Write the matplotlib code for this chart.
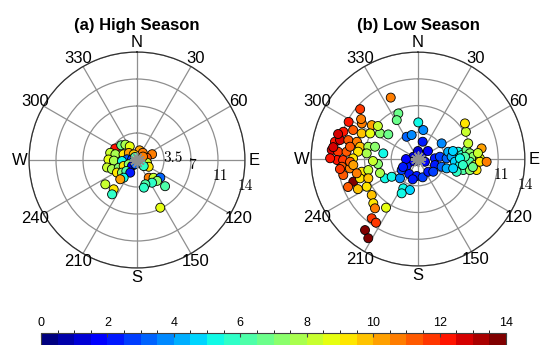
import numpy as np
import matplotlib
matplotlib.use('Agg')
import matplotlib.pyplot as plt
from matplotlib.colors import BoundaryNorm

# High season: wind direction (deg, clockwise from N), wind speed, colour value
high_dir = [298, 313, 323, 332, 15, 39, 69, 77, 285, 285, 293, 311, 330, 271, 268.5,
            274, 278, 266, 256, 250, 247, 246, 243, 220, 238, 230, 224, 208, 217, 221,
            202, 105, 120, 132, 146.5, 137, 127, 136, 146.5, 161, 166, 133, 154, 232.5,
            218.5, 216, 326, 60]
high_spd = [3.2, 2.8, 2.5, 2.0, 1.3, 1.2, 2.1, 1.3, 3.6, 2.9, 1.9, 1.4, 0.85, 3.7, 3.0,
            1.3, 0.65, 1.95, 4.0, 3.46, 2.57, 1.89, 1.21, 1.01, 3.07, 2.55, 1.99, 1.86, 2.87, 3.31,
            0.6, 1.34, 1.75, 1.17, 2.75, 3.15, 3.79, 3.76, 3.53, 3.33, 3.69, 4.98, 6.88, 5.18,
            4.85, 5.5, 0.47, 0.9]
high_val = [12.0, 6.5, 7.5, 8.5, 10, 10.5, 10.5, 11, 8, 7.5, 9, 10, 9.5, 8.5, 7.5,
            3, 2.5, 5, 8, 7.5, 7, 9, 7, 1.5, 9, 7, 6, 2, 5, 10,
            3, 8, 9, 5.5, 10.5, 8, 3, 7, 5.5, 6, 5.5, 6, 8.5, 8,
            9, 5.5, 6, 10.5]

# Low season
low_dir = [336.1, 310.8, 298.2, 302.4, 306.3, 290.1, 294.1, 294.5, 298.2, 304.1,
           309.7, 281.8, 283.7, 285.2, 285.8, 282, 283.9, 286, 279.3, 276,
           275.2, 275.8, 277, 276.3, 269.3, 269.2, 270.6, 264.2, 262.2, 257.3,
           257.5, 239.7, 250.7, 251.6, 248.8, 241.6, 232.1, 225.3, 221.1, 213.3,
           218, 213.4, 216.7, 212.1, 336.7, 331.4, 236, 223, 280.3, 270.5,
           267.7, 257.9, 264.7, 256.9, 309.5, 262.9, 249.8, 267.5, 305.1, 287.4,
           278, 262.7, 248.2, 243.4,
           0.5, 10.4, 333.1, 345.3, 15.2, 296.1, 217.4, 249.7, 42.8, 111.1,
           238.2, 236, 210.1, 184.4, 165.6, 194.6, 141,
           87.6, 56.5, 84, 88.6, 109.4, 108, 129.7, 108, 76.5, 86.1,
           94.2, 79.7, 84.8, 98.1, 103.6, 79.5, 72.7, 60.4, 52.8, 83.7,
           87.6, 93, 96, 100.6, 89.4, 80.5, 92.5, 92.3, 108.2, 87.2,
           89, 104.8, 102, 77.1, 97.6, 98.3, 84.3,
           206.6, 194.5, 205.4, 270, 51.3, 0, 241.9]
low_spd = [8.8, 10.0, 10.3, 8.7, 7.5, 10.4, 9.3, 8.1, 7.1, 6.0,
           5.05, 11.1, 10.5, 9.45, 8.3, 7.75, 6.7, 5.85, 4.6, 11.35,
           10.5, 9.4, 7.9, 6.75, 10.6, 9.8, 8.5, 10.0, 9.0, 7.55,
           6.66, 5.0, 8.97, 8.0, 6.97, 7.63, 7.67, 8.23, 8.56, 7.62,
           9.84, 9.98, 11.6, 12.24, 6.5, 5.8, 4.15, 3.45, 9.04, 11.5,
           8.9, 10.0, 8.5, 8.23, 6.8, 5.27, 5.3, 5.9, 9.1, 10.96,
           11.2, 10.3, 9.86, 8.8,
           4.8, 3.86, 3.27, 3.25, 2.35, 0.68, 0.28, 1.02, 0.71, 0.98,
           1.74, 2.57, 2.27, 2.23, 2.47, 2.74, 2.14,
           2.22, 3.72, 2.89, 3.75, 2.36, 3.26, 2.6, 3.95, 4.08, 4.42,
           4.85, 5.36, 5.74, 5.55, 6.1, 6.48, 6.89, 7.22, 7.72, 6.84,
           7.24, 6.81, 7.5, 7.81, 8.11, 8.45, 8.12, 9.0, 5.33, 6.16,
           5.5, 4.77, 6.95, 4.7, 5.94, 7.27, 7.89,
           4.29, 4.19, 4.97, 1.57, 1.68, 1.05, 2.22]
low_val = [10.5, 11.5, 12, 10.5, 10, 12, 11, 9.5, 8.5, 7,
           6.5, 12, 12.5, 11, 10.5, 9.5, 7.5, 7, 5, 12.5,
           11.5, 11, 9, 7.5, 12, 11.5, 9, 11, 10.5, 9,
           8, 5, 13.5, 9, 9.5, 9, 9.5, 9, 10.5, 8.5,
           11.5, 11.5, 14, 13.5, 6.5, 6.5, 5, 3.5, 11, 12,
           11, 11, 10, 10.5, 8, 7, 7.5, 8, 10.5, 12.5,
           12.5, 11.5, 11, 9.5,
           5, 3.5, 3, 3.5, 2, 1, 1, 1.5, 1, 1.5,
           2, 2.5, 2, 2, 2.5, 2, 2,
           2, 3.5, 2.5, 3, 2, 3, 2.5, 4, 4, 4,
           4.5, 5, 5.5, 5, 6, 6.5, 8, 8, 9, 7,
           7, 6, 8, 9, 8.5, 10, 9, 10.5, 5.5, 6,
           5, 4.5, 7, 4.5, 5.5, 6.5, 8,
           5, 4.5, 5, 1.5, 1.5, 1, 2]

theta_labels = ['N', '30', '60', 'E', '120', '150', 'S', '210', '240', 'W', '300', '330']
r_labels = ['3.5', '7', '11', '14']
r_label_pos = [(85.6, 3.38), (95.6, 6.64), (101.9, 10.07), (104.4, 13.5)]
titles = ['(a) High Season', '(b) Low Season']

cmap = plt.get_cmap('jet', 28)
norm = BoundaryNorm(np.arange(0, 14.5, 0.5), cmap.N)

fig = plt.figure(figsize=(5.4, 3.45), dpi=100)
boxes = [[0.0537, 0.2232, 0.4, 0.626], [0.576, 0.229, 0.396, 0.620]]
data = [(high_dir, high_spd, high_val), (low_dir, low_spd, low_val)]

for i in range(2):
    ax = fig.add_axes(boxes[i], projection='polar')
    ax.set_theta_zero_location('N')
    ax.set_theta_direction(-1)
    ax.set_ylim(0, 14)
    ax.set_yticks([3.5, 7, 10.5, 14])
    ax.set_yticklabels([])
    ax.set_xticks(np.deg2rad(np.arange(0, 360, 30)))
    ax.set_xticklabels([])
    ax.grid(True, color='#8f8f8f', linewidth=0.9)
    ax.spines['polar'].set_color('#303030')
    ax.spines['polar'].set_linewidth(0.9)
    ax.set_axisbelow(True)

    for k, lab in enumerate(theta_labels):
        ax.text(np.deg2rad(k * 30), 15.2, lab, ha='center', va='center',
                fontsize=12, family='Liberation Sans', clip_on=False)
    for lab, (th, rr) in zip(r_labels, r_label_pos):
        ax.text(np.deg2rad(th), rr, lab, ha='left', va='center',
                fontsize=11, family='cmr10', zorder=1)

    d, s, v = data[i]
    ax.scatter(np.deg2rad(d), s, c=v, cmap=cmap, norm=norm, s=42,
               edgecolors='black', linewidths=0.6, zorder=3)
    ax.plot(0, 0, marker=(12, 2, 0), markersize=11, color='#8f8f8f',
            mew=1.2, zorder=4)

    cx = boxes[i][0] + boxes[i][2] / 2
    fig.text(cx, 0.9275, titles[i], ha='center', va='center',
             fontsize=12, fontweight='bold', family='Liberation Sans')

cax = fig.add_axes([41 / 540, -0.05, 465 / 540, 0.085])
sm = plt.cm.ScalarMappable(cmap=cmap, norm=norm)
cb = fig.colorbar(sm, cax=cax, orientation='horizontal', ticklocation='top')
cb.set_ticks(np.arange(0, 15, 2))
cb.ax.tick_params(direction='in', length=3, width=0.8, color='#404040',
                  labelsize=9, pad=3)
for t in cb.ax.get_xticklabels():
    t.set_family('Liberation Sans')
cb.outline.set_linewidth(0.8)
cb.outline.set_edgecolor('#404040')

plt.savefig('out.png', dpi=100)
